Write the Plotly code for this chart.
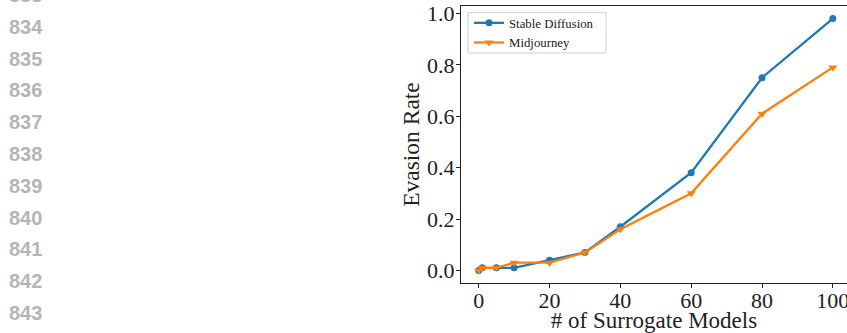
import plotly.graph_objects as go

# Evasion rate against the number of surrogate models
num_surrogates = [0, 1, 5, 10, 20, 30, 40, 60, 80, 100]
sd_rate = [0.0, 0.01, 0.01, 0.01, 0.04, 0.07, 0.17, 0.38, 0.75, 0.98]
mj_rate = [0.0, 0.01, 0.01, 0.03, 0.03, 0.07, 0.16, 0.30, 0.61, 0.79]

x_ticks = [0, 20, 40, 60, 80, 100]
y_ticks = [0.0, 0.2, 0.4, 0.6, 0.8, 1.0]
y_tick_text = ["0.0", "0.2", "0.4", "0.6", "0.8", "1.0"]

# manuscript line numbers in the left gutter
line_numbers = ["833", "834", "835", "836", "837", "838", "839", "840", "841", "842", "843"]

SERIF = "Liberation Serif"
W, H = 847, 333
ML, MR, MT, MB = 461, 0, 6, 50
plot_w = W - ML - MR
plot_h = H - MT - MB


def px_x(px):
    return (px - ML) / plot_w


def px_y(py):
    return (H - MB - py) / plot_h


fig = go.Figure()
fig.add_trace(go.Scatter(
    x=num_surrogates, y=sd_rate, name="Stable Diffusion",
    mode="lines+markers",
    line=dict(color="#1f77b4", width=2.3),
    marker=dict(symbol="circle", size=7, color="#1f77b4"),
))
fig.add_trace(go.Scatter(
    x=num_surrogates, y=mj_rate, name="Midjourney",
    mode="lines+markers",
    line=dict(color="#ff7f0e", width=2.3),
    marker=dict(symbol="triangle-down", size=8, color="#ff7f0e"),
))

axis_common = dict(
    showgrid=False, zeroline=False,
    showline=True, linecolor="#222222", linewidth=1,
    ticks="outside", ticklen=4, tickwidth=1, tickcolor="#222222",
    tickfont=dict(family=SERIF, size=22, color="#222222"),
    automargin=False,
)

fig.update_xaxes(
    range=[-5, 104], tickvals=x_ticks, mirror=True,
    ticklabeloverflow="allow", ticklabelstandoff=-6,
    title=dict(text="# of Surrogate Models", font=dict(family=SERIF, size=23, color="#222222"), standoff=2),
    **axis_common,
)
fig.update_yaxes(
    range=[-0.049, 1.029], tickvals=y_ticks, ticktext=y_tick_text,
    ticklabelstandoff=-3,
    title=dict(text="Evasion Rate", font=dict(family=SERIF, size=23.5, color="#222222"), standoff=0),
    **axis_common,
)

# gutter line numbers, placed in paper coordinates relative to the plot area
row0_y, row_step = -5.1, 31.8
for i, label in enumerate(line_numbers):
    py = row0_y + i * row_step
    fig.add_annotation(
        text=f"<b>{label}</b>", xref="paper", yref="paper",
        x=px_x(7), y=px_y(py),
        xanchor="left", yanchor="middle", showarrow=False,
        font=dict(family="Liberation Sans", size=20, color="#b5b5b5"),
    )

# legend frame
fig.add_shape(
    type="rect", xref="paper", yref="paper",
    x0=px_x(468), x1=px_x(606), y0=px_y(53), y1=px_y(12.7),
    line=dict(color="#d0d0d0", width=1), fillcolor="rgba(255,255,255,0.8)",
    layer="above",
)

fig.update_layout(
    width=W, height=H,
    margin=dict(l=ML, r=MR, t=MT, b=MB, pad=0),
    paper_bgcolor="white", plot_bgcolor="white",
    showlegend=True,
    legend=dict(
        x=px_x(469), y=px_y(8),
        xanchor="left", yanchor="top",
        bgcolor="rgba(0,0,0,0)", borderwidth=0,
        font=dict(family=SERIF, size=12.8, color="#222222"),
        tracegroupgap=0, itemwidth=30,
    ),
)

fig.write_html("out.html", config={"displayModeBar": False})
